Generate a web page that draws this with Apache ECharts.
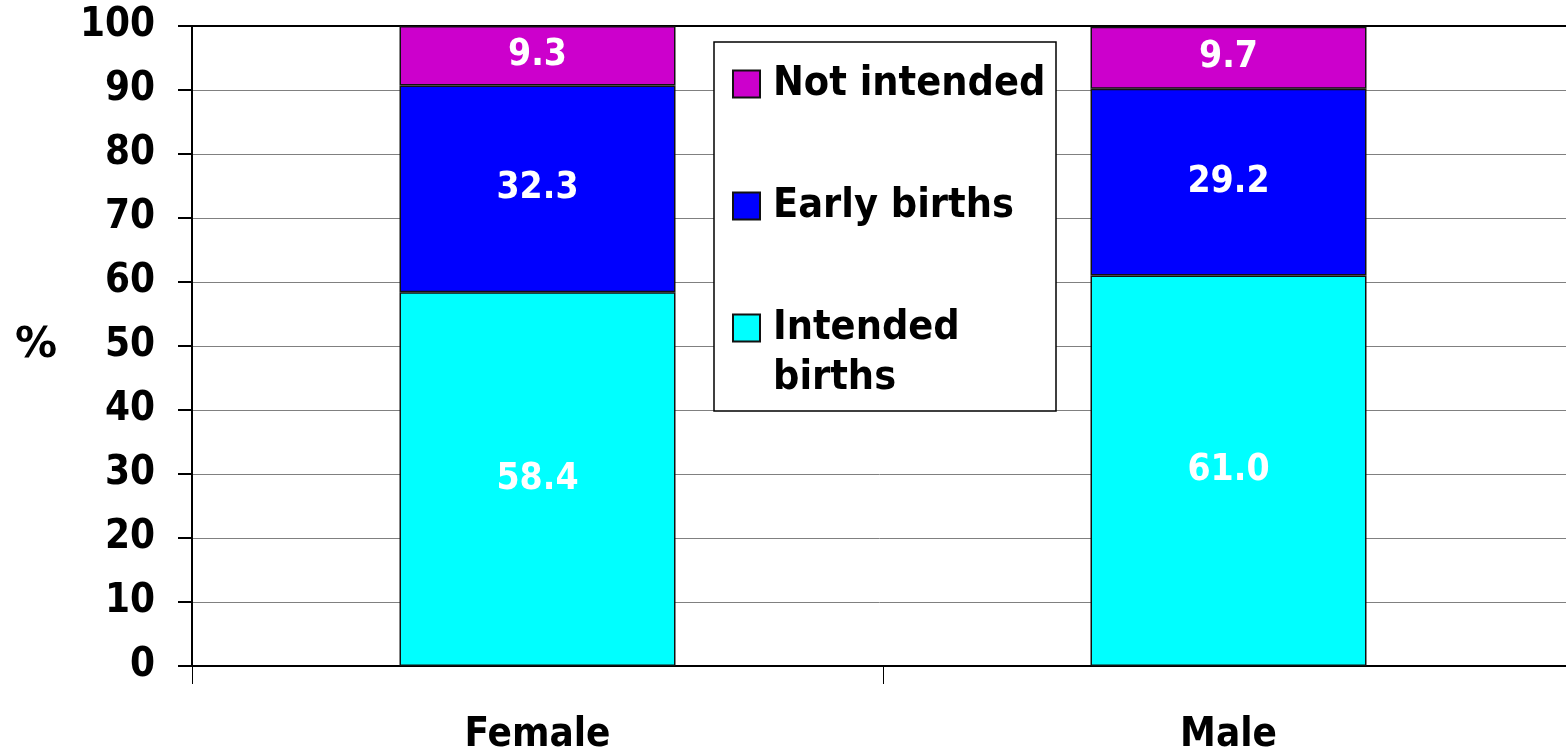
<!DOCTYPE html>
<html>
<head>
<meta charset="utf-8">
<script src="https://cdn.jsdelivr.net/npm/echarts@6/dist/echarts.min.js"></script>
<style>
  html, body { margin: 0; padding: 0; background: #fff; }
  #chart { width: 1566px; height: 750px; }
</style>
</head>
<body>
<div id="chart"></div>
<script>
// Birth intention by sex of child (% of births)
const categories = ['Female', 'Male'];
const intendedBirths = [58.4, 61.0];
const earlyBirths = [32.3, 29.2];
const notIntended = [9.3, 9.7];
const yTicks = { min: 0, max: 100, step: 10 };

const FONT = '"DejaVu Sans Condensed", "DejaVu Sans", sans-serif';
const colors = { intended: '#00FFFF', early: '#0000FF', notIntended: '#CC00CC' };

const barLabel = {
  show: true,
  position: 'inside',
  color: '#fff',
  fontFamily: FONT,
  fontWeight: 'bold',
  fontSize: 37,
  padding: [8, 0, 0, 0],
  formatter: p => p.value.toFixed(1)
};

function makeSeries(name, data, color) {
  return {
    name: name,
    type: 'bar',
    stack: 'total',
    data: data,
    barWidth: 276,
    itemStyle: { color: color, borderColor: '#111', borderWidth: 1.5 },
    label: barLabel,
    emphasis: { disabled: true }
  };
}

const legendText = {
  fontFamily: FONT,
  fontWeight: 'bold',
  fontSize: 41,
  color: '#000',
  lineHeight: 50,
  padding: [6, 0, 0, 8]
};

function makeLegend(name, top, formatter) {
  return {
    data: [name],
    left: 732,
    top: top,
    padding: 0,
    itemWidth: 27,
    itemHeight: 27,
    icon: 'rect',
    selectedMode: false,
    z: 10,
    formatter: formatter,
    textStyle: legendText
  };
}

const chart = echarts.init(document.getElementById('chart'));
chart.setOption({
  animation: false,
  backgroundColor: '#fff',
  grid: { left: 192, right: -8, top: 26, bottom: 84, containLabel: false, outerBoundsMode: 'none' },
  xAxis: [
    {
      type: 'category',
      data: categories,
      position: 'bottom',
      axisLine: { lineStyle: { color: '#000', width: 2 } },
      axisTick: { show: true, length: 18, lineStyle: { color: '#000', width: 1 } },
      axisLabel: { color: '#000', fontFamily: FONT, fontWeight: 'bold', fontSize: 40, margin: 50 }
    },
    {
      type: 'category',
      data: categories,
      position: 'top',
      axisLine: { lineStyle: { color: '#000', width: 2 } },
      axisTick: { show: false },
      axisLabel: { show: false }
    }
  ],
  yAxis: {
    type: 'value',
    min: yTicks.min,
    max: yTicks.max,
    interval: yTicks.step,
    name: '%',
    nameLocation: 'middle',
    nameRotate: 0,
    nameGap: 135,
    nameTextStyle: { color: '#000', fontFamily: '"DejaVu Sans", sans-serif', fontWeight: 'bold', fontSize: 42, padding: [14, 0, 0, 0] },
    axisLine: { show: true, lineStyle: { color: '#000', width: 2 } },
    axisTick: { show: true, length: 14, lineStyle: { color: '#000', width: 2 } },
    axisLabel: { color: '#000', fontFamily: FONT, fontWeight: 'bold', fontSize: 40, margin: 37, padding: [8, 0, 0, 0] },
    splitLine: { show: true, lineStyle: { color: '#808080', width: 1 } }
  },
  graphic: [
    {
      type: 'rect',
      z: 9,
      shape: { x: 714, y: 42, width: 342, height: 369 },
      style: { fill: '#fff', stroke: '#000', lineWidth: 1.5 }
    }
  ],
  legend: [
    makeLegend('Not intended', 56),
    makeLegend('Early births', 178),
    makeLegend('Intended births', 250, () => '\nIntended\nbirths')
  ],
  series: [
    makeSeries('Intended births', intendedBirths, colors.intended),
    makeSeries('Early births', earlyBirths, colors.early),
    makeSeries('Not intended', notIntended, colors.notIntended)
  ]
});
</script>
</body>
</html>
